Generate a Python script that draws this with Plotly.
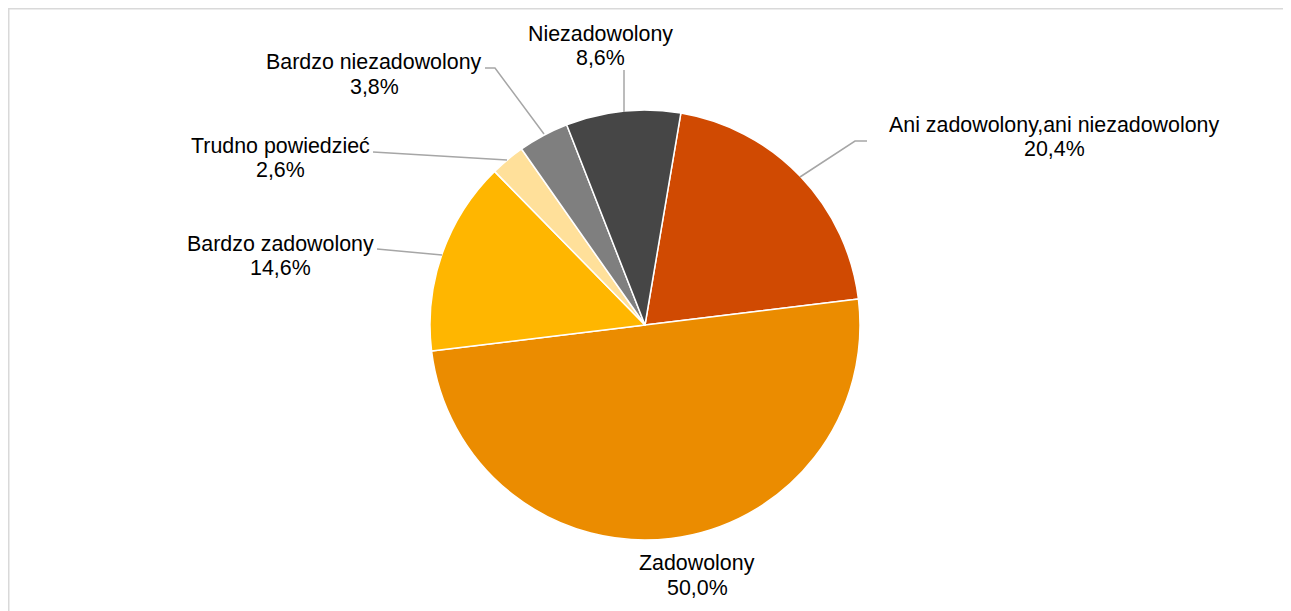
import plotly.graph_objects as go

W, H = 1291, 611
OFF = 8  # page body margin

categories = ["Ani zadowolony,ani niezadowolony", "Zadowolony", "Bardzo zadowolony",
              "Trudno powiedzieć", "Bardzo niezadowolony", "Niezadowolony"]
values = [20.4, 50.0, 14.6, 2.6, 3.8, 8.6]
colors = ["#D04A02", "#EB8C00", "#FFB600", "#FFE09A", "#7F7F7F", "#464646"]

# label text centres (screen px): x, y line1, y line2
label_pos = [(1054, 125, 149), (697, 563, 588), (280, 244, 268),
             (280, 146, 170), (374, 62, 87), (600, 34, 58)]
# leader lines (screen px)
leaders = [[(867, 141), (855, 141), (800, 177)],
           None,
           [(377, 249), (442, 255)],
           [(373, 152), (507, 160)],
           [(485, 68), (495, 68), (544, 134)],
           [(624, 70), (624, 112)]]

cx, cy, r = 645, 325, 215


def px(x):
    return (x - OFF) / W


def py(y):
    return 1 - (y - OFF) / H


fig = go.Figure(go.Pie(
    labels=categories, values=values, sort=False, direction="clockwise",
    rotation=9.6, textinfo="none", hoverinfo="label+percent",
    marker=dict(colors=colors, line=dict(color="white", width=1.5)),
    domain=dict(x=[px(cx - r), px(cx + r)], y=[py(cy + r), py(cy - r)]),
    showlegend=False,
))

font = dict(family="Liberation Sans, Arial, sans-serif", size=21.4, color="#000000")
ann = []
for cat, v, (x, y1, y2) in zip(categories, values, label_pos):
    ann.append(dict(x=px(x), y=py(y1), xref="paper", yref="paper", text=cat,
                    showarrow=False, xanchor="center", yanchor="middle", font=font))
    ann.append(dict(x=px(x), y=py(y2), xref="paper", yref="paper",
                    text=f"{v:.1f}".replace(".", ",") + "%",
                    showarrow=False, xanchor="center", yanchor="middle", font=font))

shapes = []
for pts in leaders:
    if not pts:
        continue
    path = "M " + " L ".join(f"{px(x)},{py(y)}" for x, y in pts)
    shapes.append(dict(type="path", xref="paper", yref="paper", path=path,
                       line=dict(color="#A6A6A6", width=1.5)))
shapes.append(dict(type="rect", xref="paper", yref="paper",
                   x0=px(8.75), y0=py(640), x1=px(1320), y1=py(8.75),
                   line=dict(color="#D9D9D9", width=1.5)))

fig.update_layout(width=W, height=H, margin=dict(l=0, r=0, t=0, b=0),
                  paper_bgcolor="white", plot_bgcolor="white",
                  annotations=ann, shapes=shapes)

fig.write_html("out.html", post_script="document.body.style.overflow='hidden';")
